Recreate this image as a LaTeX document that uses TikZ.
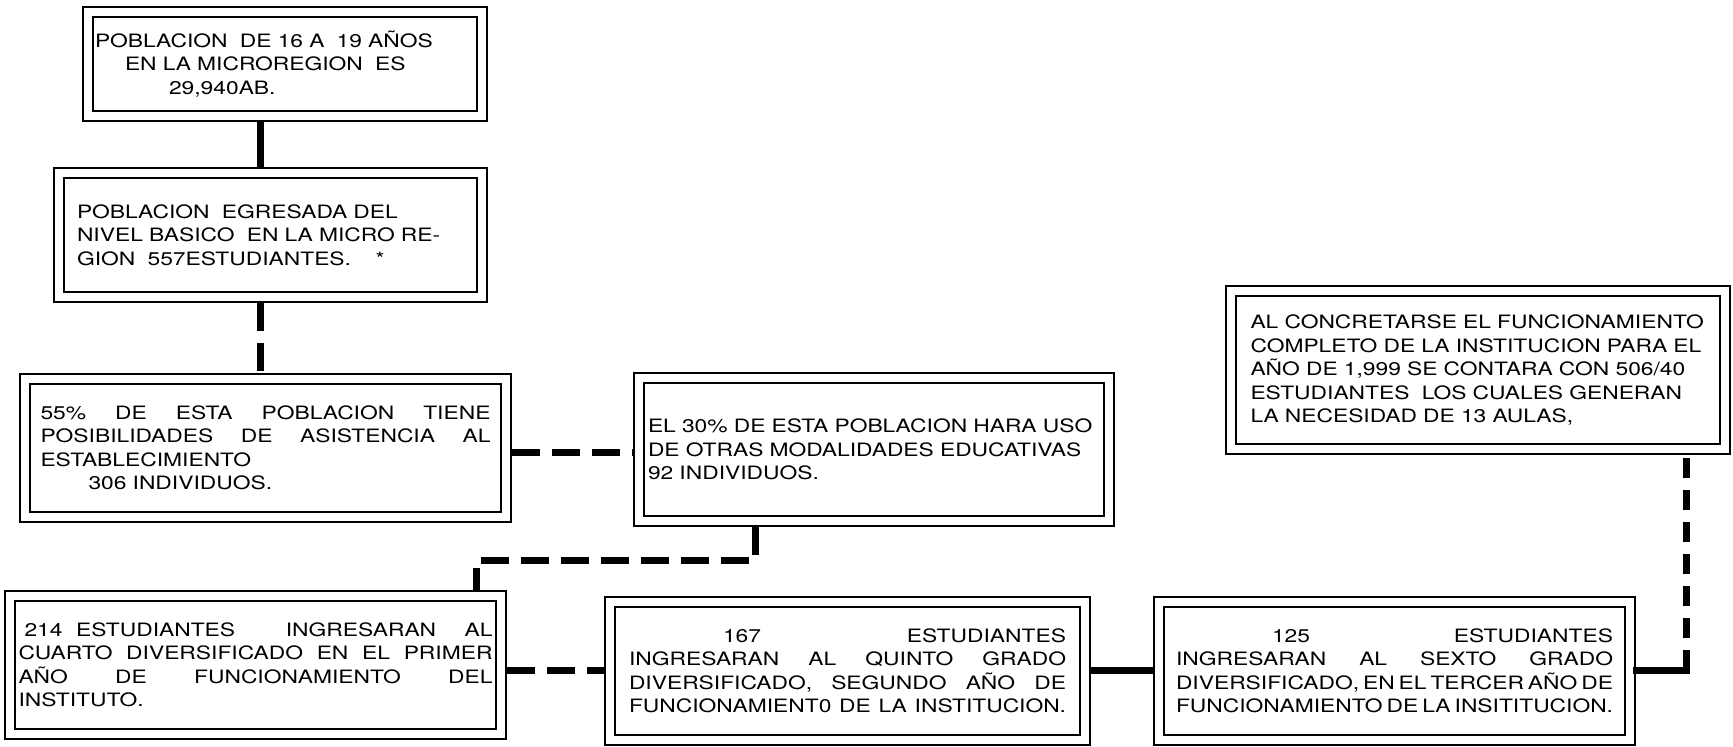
\documentclass[tikz,border=0pt]{standalone}
\usepackage{fontspec}
\setmainfont{TeX Gyre Heros}[FakeStretch=1.24]
\usetikzlibrary{positioning}

\begin{document}
\begin{tikzpicture}[x=0.5pt, y=-0.5pt]
    \tikzset{
      every node/.style={font=\fontsize{9.2}{11.75}\selectfont},
      caja/.style={draw, line width=0.8pt, double, double distance=4.2pt,
        outer sep=2.9pt, inner sep=0pt, align=left},
      enlace/.style={line width=3.5pt},
      discontinuo/.style={dash pattern=on 14pt off 6pt},
      punteado/.style={dash pattern=on 10pt off 6pt},
    }
    \useasboundingbox (0,0) rectangle (1733,747);

    \node[caja, minimum width=197.2pt, minimum height=52.2pt, text width=190pt] (pob) at (285,64)
      {POBLACION\ \ DE 16 A\ \ 19 AÑOS\\ \hspace*{15pt}EN LA MICROREGION\ \ ES\\ \hspace*{37pt}29,940AB.};
    \node[caja, minimum width=211.7pt, minimum height=62.2pt, text width=193.5pt] (egre) at (270.5,235)
      {POBLACION\ \ EGRESADA DEL\\ NIVEL BASICO\ \ EN LA MICRO RE-\\ GION\ \ 557ESTUDIANTES.\ \ \ \ *};
    \node[caja, minimum width=240.7pt, minimum height=69.2pt, text width=225pt] (asis) at (265.5,448)
      {55\%\hfill DE\hfill ESTA\hfill POBLACION\hfill TIENE\\
       POSIBILIDADES\hfill DE\hfill ASISTENCIA\hfill AL\\
       ESTABLECIMIENTO\\ \hspace*{24pt}306 INDIVIDUOS.};
    \node[caja, minimum width=235.2pt, minimum height=71.7pt, text width=226pt] (otras) at (874,449.5)
      {EL 30\% DE ESTA POBLACION HARA USO\\ DE OTRAS MODALIDADES EDUCATIVAS\\ 92 INDIVIDUOS.};
    \node[caja, minimum width=245.7pt, minimum height=69.2pt, text width=237pt] (cuarto) at (255.5,665)
      {\hspace*{3pt}214 \hspace{0pt plus 1fill}ESTUDIANTES \hspace{0pt plus 6fill}INGRESARAN \hspace{0pt plus 3fill}AL\\
       CUARTO\hfill DIVERSIFICADO\hfill EN\hfill EL\hfill PRIMER\\
       AÑO\hfill DE\hfill FUNCIONAMIENTO\hfill DEL\\ INSTITUTO.};
    \node[caja, minimum width=237.7pt, minimum height=69.2pt, text width=218.5pt] (quinto) at (847.5,671)
      {\hspace*{47pt}167\hfill ESTUDIANTES\\
       INGRESARAN\hfill AL\hfill QUINTO\hfill GRADO\\
       DIVERSIFICADO,\hfill SEGUNDO\hfill AÑO\hfill DE\\
       FUNCIONAMIENT0\hfill DE\hfill LA\hfill INSTITUCION.};
    \node[caja, minimum width=235.7pt, minimum height=69.2pt, text width=218.5pt] (sexto) at (1394.5,671)
      {\hspace*{48pt}125\hfill ESTUDIANTES\\
       INGRESARAN\hfill AL\hfill SEXTO\hfill GRADO\\
       DIVERSIFICADO,\hfill EN\hfill EL\hfill TERCER\hfill AÑO\hfill DE\\
       FUNCIONAMIENTO\hfill DE\hfill LA\hfill INSITITUCION.};
    \node[caja, minimum width=247.2pt, minimum height=79.2pt, text width=227.5pt] (aulas) at (1478,370)
      {AL CONCRETARSE EL FUNCIONAMIENTO\\ COMPLETO DE LA INSTITUCION PARA EL\\
       AÑO DE 1,999 SE CONTARA CON 506/40\\ ESTUDIANTES\ \ LOS CUALES GENERAN\\
       LA NECESIDAD DE 13 AULAS,};

    % conectores
    \coordinate (eje) at (260,0);
    \coordinate (nivel) at (0,453);
    \coordinate (codo1) at (755,561);
    \coordinate (codo2) at (476,561);
    \coordinate (fila) at (0,670);
    \coordinate (esq) at (1686,670);

    \draw[enlace] (pob.south -| eje) -- (egre.north -| eje);
    \draw[enlace, discontinuo] (egre.south -| eje) -- (asis.north -| eje);
    \draw[enlace, discontinuo] (asis.east |- nivel) -- (otras.west |- nivel);
    \draw[enlace, discontinuo] (otras.south -| codo1) -- (codo1) -- (codo2) -- (cuarto.north -| codo2);
    \draw[enlace, discontinuo] (cuarto.east |- fila) -- (quinto.west |- fila);
    \draw[enlace] (quinto.east |- fila) -- (sexto.west |- fila);
    \draw[enlace, line cap=rect] (sexto.east |- esq) -- (esq);
    \draw[enlace, punteado] (esq) -- (aulas.south -| esq);
\end{tikzpicture}
\end{document}
